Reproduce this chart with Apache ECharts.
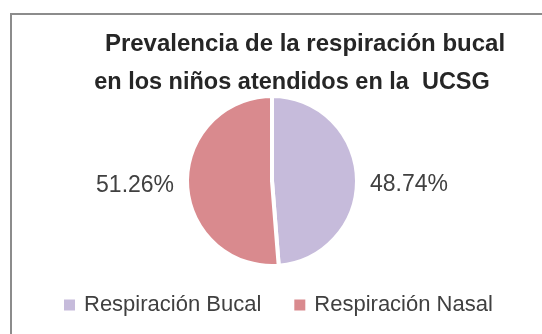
<!DOCTYPE html>
<html>
<head>
<meta charset="utf-8">
<script src="https://cdn.jsdelivr.net/npm/echarts@6/dist/echarts.min.js"></script>
<style>html,body{margin:0;padding:0;background:#fff}#c{width:542px;height:334px}</style>
</head>
<body>
<div id="c"></div>
<script>
const categories = ["Respiración Bucal", "Respiración Nasal"];
const values = [48.74, 51.26];
const colors = ["#C6BBDB", "#D98A8E"];
const titleLines = ["Prevalencia de la respiración bucal", "en los niños atendidos en la  UCSG"];

const chart = echarts.init(document.getElementById('c'), null, {renderer: 'canvas'});
chart.setOption({
  animation: false,
  backgroundColor: '#ffffff',
  title: [
    {text: titleLines[0], left: 300, top: 27, textAlign: 'center',
     textStyle: {fontFamily: 'Liberation Sans', fontWeight: 'bold', fontSize: 24, color: '#262626'}},
    {text: titleLines[1], left: 287, top: 66, textAlign: 'center',
     textStyle: {fontFamily: 'Liberation Sans', fontWeight: 'bold', fontSize: 23.5, color: '#262626'}}
  ],
  legend: {
    data: categories,
    left: 57, top: 289,
    icon: 'rect', itemWidth: 13, itemHeight: 13, itemGap: 31,
    textStyle: {fontFamily: 'Liberation Sans', fontSize: 22, color: '#404040', padding: [0,0,0,3]}
  },
  graphic: [
    {type: 'line', shape: {x1: 10, y1: 14, x2: 542, y2: 14}, style: {stroke: '#8c8c8c', lineWidth: 2}},
    {type: 'line', shape: {x1: 11, y1: 13, x2: 11, y2: 334}, style: {stroke: '#8c8c8c', lineWidth: 2}}
  ],
  series: [{
    type: 'pie',
    center: [272, 181],
    radius: 85,
    startAngle: 90,
    clockwise: true,
    data: categories.map((c, i) => ({name: c, value: values[i], itemStyle: {color: colors[i]}})),
    itemStyle: {borderColor: '#ffffff', borderWidth: 4},
    label: {
      show: true, position: 'outside',
      formatter: p => p.value.toFixed(2) + '%',
      fontFamily: 'Liberation Sans', fontSize: 23, color: '#404040'
    },
    labelLayout: p => (p.dataIndex === 0 ? {dy: 7} : {dy: 1}),
    labelLine: {show: false, length: 8, length2: 0},
    emphasis: {disabled: true}
  }]
});
</script>
</body>
</html>
